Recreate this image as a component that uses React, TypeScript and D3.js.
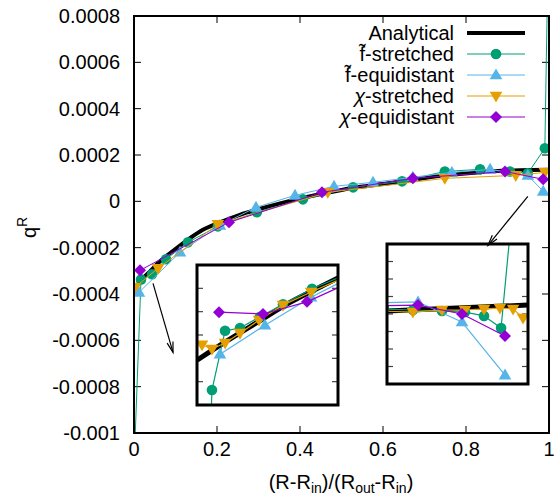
import React from "react";
import * as d3 from "d3";

// ---------- data ----------
const xTicks = [0, 0.2, 0.4, 0.6, 0.8, 1];
const xTickLabels = ["0", "0.2", "0.4", "0.6", "0.8", "1"];
const yTicks = [-0.001, -0.0008, -0.0006, -0.0004, -0.0002, 0, 0.0002, 0.0004, 0.0006, 0.0008];
const yTickLabels = ["-0.001", "-0.0008", "-0.0006", "-0.0004", "-0.0002", "0", "0.0002", "0.0004", "0.0006", "0.0008"];

const seriesPrefix = ["", "f\u0303", "f\u0303", "\u03c7", "\u03c7"];
const seriesSuffix = ["Analytical", "-stretched", "-equidistant", "-stretched", "-equidistant"];

const analyticalX = [0, 0.0193, 0.0386, 0.0627, 0.0867, 0.1277, 0.159, 0.207, 0.255, 0.304, 0.352, 0.407, 0.472, 0.528, 0.593, 0.648, 0.749, 0.834, 0.93, 1.0];
const analyticalY = [-0.00038, -0.000337, -0.000302, -0.000259, -0.000224, -0.000168, -0.00013, -0.000091, -0.000058, -0.000032, -0.0000086, 0.0000151, 0.0000388, 0.0000583, 0.0000734, 0.0000863, 0.000112, 0.000126, 0.000134, 0.000136];

const fStretchedX = [0.001, 0.0169, 0.0434, 0.0771, 0.13, 0.202, 0.296, 0.407, 0.528, 0.646, 0.749, 0.834, 0.906, 0.949, 0.99, 0.999];
const fStretchedY = [-0.0011, -0.000337, -0.000315, -0.00025, -0.000177, -0.000108, -0.000047, 0.0000086, 0.0000604, 0.0000863, 0.000129, 0.000138, 0.000129, 0.000121, 0.000229, 0.0012];

const fEquiX = [0.012, 0.111, 0.207, 0.294, 0.388, 0.482, 0.576, 0.672, 0.766, 0.858, 0.949, 0.986];
const fEquiY = [-0.000393, -0.00022, -0.000104, -0.0000259, 0.0000259, 0.0000647, 0.000082, 0.000104, 0.000125, 0.000138, 0.000112, 0.0000432];

const chiStretchedX = [0.0024, 0.058, 0.202, 0.467, 0.749, 0.92, 0.99];
const chiStretchedY = [-0.000371, -0.000289, -0.0000993, 0.0000388, 0.0000993, 0.000112, 0.000125];

const chiEquiX = [0.0145, 0.229, 0.453, 0.672, 0.894, 0.986];
const chiEquiY = [-0.000298, -0.0000906, 0.0000388, 0.0000993, 0.000129, 0.000095];

// inset 1 (near inner boundary)
const in1XDomain = [0, 0.1];
const in1YDomain = [-0.00045, -0.00015];
const in1YTicks = [-0.0004, -0.00035, -0.0003, -0.00025, -0.0002];
const in1AnaX = [0, 0.0184, 0.0426, 0.066, 0.0894, 0.1];
const in1AnaY = [-0.000354, -0.000318, -0.000273, -0.00023, -0.000194, -0.000178];
const in1FStrX = [0.00355, 0.0106, 0.0199, 0.0305, 0.0447, 0.061, 0.0816, 0.105];
const in1FStrY = [-0.00106, -0.000418, -0.000291, -0.000285, -0.000261, -0.000234, -0.000201, -0.000171];
const in1FEqX = [0.0163, 0.0482, 0.0809, 0.1135];
const in1FEqY = [-0.000341, -0.000279, -0.000219, -0.000169];
const in1ChiStrX = [0.00355, 0.0106, 0.0199, 0.0305, 0.044, 0.061, 0.0809, 0.105];
const in1ChiStrY = [-0.000321, -0.00033, -0.000317, -0.000296, -0.000268, -0.000236, -0.000208, -0.000176];
const in1ChiEqX = [0.0156, 0.0468, 0.078, 0.1092];
const in1ChiEqY = [-0.000251, -0.000255, -0.000229, -0.000186];

// inset 2 (near outer boundary)
const in2XDomain = [0.9, 1.0];
const in2YDomain = [0.00008, 0.00016];
const in2YTicks = [0.00009, 0.0001, 0.00011, 0.00012, 0.00013, 0.00014, 0.00015];
const in2AnaX = [0.88, 0.9496, 1.0];
const in2AnaY = [0.000121, 0.0001234, 0.0001251];
const in2FStrX = [0.8979, 0.9184, 0.939, 0.9553, 0.9688, 0.9809, 0.9908];
const in2FStrY = [0.0001229, 0.0001223, 0.0001217, 0.0001211, 0.0001189, 0.000112, 0.000196];
const in2FEqX = [0.8908, 0.922, 0.9532, 0.9837];
const in2FEqY = [0.0001263, 0.0001269, 0.0001154, 0.0000851];
const in2ChiStrX = [0.895, 0.9184, 0.939, 0.9553, 0.9688, 0.9801, 0.9894, 0.9965];
const in2ChiStrY = [0.0001217, 0.0001211, 0.0001223, 0.0001223, 0.0001229, 0.0001234, 0.0001229, 0.0001177];
const in2ChiEqX = [0.8908, 0.922, 0.9532, 0.9837];
const in2ChiEqY = [0.0001246, 0.0001251, 0.00012, 0.0001074];

// arrows (data coordinates of the main plot)
const arrowFrom = [[0.0458, -0.000354], [0.949, 0.0000216]];
const arrowTo = [[0.094, -0.000652], [0.853, -0.00019]];

// ---------- styling ----------
const FONT = "'Liberation Sans', Arial, Helvetica, sans-serif";
const COLORS = ["#000000", "#009e73", "#56b4e9", "#e69f00", "#9400d3"];
const KINDS = ["none", "circle", "triUp", "triDown", "diamond"];

const W = 555, H = 498;
const PL = 134, PR = 549, PT = 16, PB = 433;

function zip(xs: number[], ys: number[]) {
  return xs.map((x, i) => [x, ys[i]] as [number, number]);
}

function Marker({ kind, cx, cy, color, s = 1 }: any) {
  if (kind === "circle") return <circle cx={cx} cy={cy} r={5.3 * s} fill={color} />;
  if (kind === "triUp") {
    const a = 6.3 * s, h1 = 6.5 * s, h2 = 4.3 * s;
    return <path d={`M${cx},${cy - h1}L${cx + a},${cy + h2}L${cx - a},${cy + h2}Z`} fill={color} />;
  }
  if (kind === "triDown") {
    const a = 6.3 * s, h1 = 6.5 * s, h2 = 4.3 * s;
    return <path d={`M${cx},${cy + h1}L${cx + a},${cy - h2}L${cx - a},${cy - h2}Z`} fill={color} />;
  }
  if (kind === "diamond") {
    const a = 6 * s;
    return <path d={`M${cx},${cy - a}L${cx + a},${cy}L${cx},${cy + a}L${cx - a},${cy}Z`} fill={color} />;
  }
  return null;
}

function Series({ data, x, y, color, kind, width = 1, curve = d3.curveLinear, ms = 1 }: any) {
  const line = d3.line<[number, number]>().x((d) => x(d[0])).y((d) => y(d[1])).curve(curve);
  return (
    <g>
      <path d={line(data) || ""} fill="none" stroke={color} strokeWidth={width} strokeLinejoin="round" />
      {kind !== "none" && data.map((d: [number, number], i: number) => (
        <Marker key={i} kind={kind} cx={x(d[0])} cy={y(d[1])} color={color} s={ms} />
      ))}
    </g>
  );
}

function Inset({ id, x0, y0, w, h, xDom, yDom, yTicks, series }: any) {
  const x = d3.scaleLinear().domain(xDom).range([x0, x0 + w]);
  const y = d3.scaleLinear().domain(yDom).range([y0 + h, y0]);
  return (
    <g>
      <defs>
        <clipPath id={id}>
          <rect x={x0} y={y0} width={w} height={h} />
        </clipPath>
      </defs>
      <rect x={x0} y={y0} width={w} height={h} fill="white" />
      {yTicks.map((t: number, i: number) => (
        <g key={i}>
          <line x1={x0} x2={x0 + 6} y1={y(t)} y2={y(t)} stroke="#444" strokeWidth={1.2} />
          <line x1={x0 + w} x2={x0 + w - 6} y1={y(t)} y2={y(t)} stroke="#444" strokeWidth={1.2} />
        </g>
      ))}
      <g clipPath={`url(#${id})`}>
        {series.map((s: any, i: number) => (
          <Series key={i} data={s.data} x={x} y={y} color={COLORS[i]} kind={KINDS[i]}
            width={i === 0 ? 5 : 1.2} curve={i === 0 ? d3.curveMonotoneX : d3.curveLinear} />
        ))}
      </g>
      <rect x={x0} y={y0} width={w} height={h} fill="none" stroke="black" strokeWidth={3} />
    </g>
  );
}

function Arrow({ x1, y1, x2, y2 }: any) {
  const ang = Math.atan2(y2 - y1, x2 - x1);
  const L = 11, a = (16 * Math.PI) / 180;
  const p1 = [x2 - L * Math.cos(ang - a), y2 - L * Math.sin(ang - a)];
  const p2 = [x2 - L * Math.cos(ang + a), y2 - L * Math.sin(ang + a)];
  return (
    <g stroke="black" strokeWidth={1.2} fill="none">
      <line x1={x1} y1={y1} x2={x2} y2={y2} />
      <path d={`M${p1[0]},${p1[1]}L${x2},${y2}L${p2[0]},${p2[1]}`} />
    </g>
  );
}

export default function App() {
  const x = d3.scaleLinear().domain([0, 1]).range([PL, PR]);
  const y = d3.scaleLinear().domain([-0.001, 0.0008]).range([PB, PT]);

  const mainData = [
    zip(analyticalX, analyticalY),
    zip(fStretchedX, fStretchedY),
    zip(fEquiX, fEquiY),
    zip(chiStretchedX, chiStretchedY),
    zip(chiEquiX, chiEquiY),
  ];
  const in1 = [
    zip(in1AnaX, in1AnaY), zip(in1FStrX, in1FStrY), zip(in1FEqX, in1FEqY),
    zip(in1ChiStrX, in1ChiStrY), zip(in1ChiEqX, in1ChiEqY),
  ].map((d) => ({ data: d }));
  const in2 = [
    zip(in2AnaX, in2AnaY), zip(in2FStrX, in2FStrY), zip(in2FEqX, in2FEqY),
    zip(in2ChiStrX, in2ChiStrY), zip(in2ChiEqX, in2ChiEqY),
  ].map((d) => ({ data: d }));

  const legendRows = [33, 54, 75, 96, 117];

  return (
    <svg width={W} height={H} style={{ display: "block", position: "absolute", left: 0, top: 0 }} fontFamily={FONT}>
      <rect x={0} y={0} width={W} height={H} fill="white" />
      <defs>
        <clipPath id="mainclip">
          <rect x={PL} y={PT} width={PR - PL} height={PB - PT} />
        </clipPath>
      </defs>

      {/* ticks */}
      {yTicks.map((t, i) => (
        <g key={"y" + i}>
          <line x1={PL} x2={PL + 7} y1={y(t)} y2={y(t)} stroke="black" strokeWidth={1} />
          <line x1={PR} x2={PR - 7} y1={y(t)} y2={y(t)} stroke="black" strokeWidth={1} />
          <text x={PL - 14} y={y(t)} dy="0.35em" textAnchor="end" fontSize={20}>{yTickLabels[i]}</text>
        </g>
      ))}
      {xTicks.map((t, i) => (
        <g key={"x" + i}>
          <line x1={x(t)} x2={x(t)} y1={PB} y2={PB - 7} stroke="black" strokeWidth={1} />
          <line x1={x(t)} x2={x(t)} y1={PT} y2={PT + 7} stroke="black" strokeWidth={1} />
          <text x={x(t)} y={456} textAnchor="middle" fontSize={20}>{xTickLabels[i]}</text>
        </g>
      ))}

      {/* series */}
      <g clipPath="url(#mainclip)">
        {mainData.map((d, i) => (
          <Series key={i} data={d} x={x} y={y} color={COLORS[i]} kind={KINDS[i]}
            width={i === 0 ? 4 : 1} curve={i === 0 ? d3.curveMonotoneX : d3.curveLinear} />
        ))}
      </g>

      {/* legend */}
      {seriesSuffix.map((n, i) => (
        <g key={"l" + i}>
          <text x={454} y={legendRows[i]} dy="0.35em" textAnchor="end" fontSize={20}>
            {seriesPrefix[i] && (
              <tspan fontStyle={i >= 3 ? "italic" : "normal"}>{seriesPrefix[i]}</tspan>
            )}
            <tspan>{n}</tspan>
          </text>
          <line x1={467} x2={525} y1={legendRows[i]} y2={legendRows[i]} stroke={COLORS[i]} strokeWidth={i === 0 ? 4 : 1} />
          <Marker kind={KINDS[i]} cx={496} cy={legendRows[i]} color={COLORS[i]} />
        </g>
      ))}

      {/* insets */}
      <Inset id="in1" x0={197} y0={265} w={141} h={140} xDom={in1XDomain} yDom={in1YDomain} yTicks={in1YTicks} series={in1} />
      <Inset id="in2" x0={387} y0={244} w={141} h={140} xDom={in2XDomain} yDom={in2YDomain} yTicks={in2YTicks} series={in2} />

      {/* arrows */}
      {arrowFrom.map((f, i) => (
        <Arrow key={"a" + i} x1={x(f[0])} y1={y(f[1])} x2={x(arrowTo[i][0])} y2={y(arrowTo[i][1])} />
      ))}

      {/* frame */}
      <rect x={PL} y={PT} width={PR - PL} height={PB - PT} fill="none" stroke="black" strokeWidth={2} />

      {/* axis labels */}
      <text x={341} y={489} textAnchor="middle" fontSize={20}>
        (R-R<tspan fontSize={14} dy={4}>in</tspan><tspan dy={-4}>)/(R</tspan>
        <tspan fontSize={14} dy={4}>out</tspan><tspan dy={-4}>-R</tspan>
        <tspan fontSize={14} dy={4}>in</tspan><tspan dy={-4}>)</tspan>
      </text>
      <text transform="translate(36,238) rotate(-90)" fontSize={20}>
        q<tspan fontSize={14} dy={-9}>R</tspan>
      </text>
    </svg>
  );
}
